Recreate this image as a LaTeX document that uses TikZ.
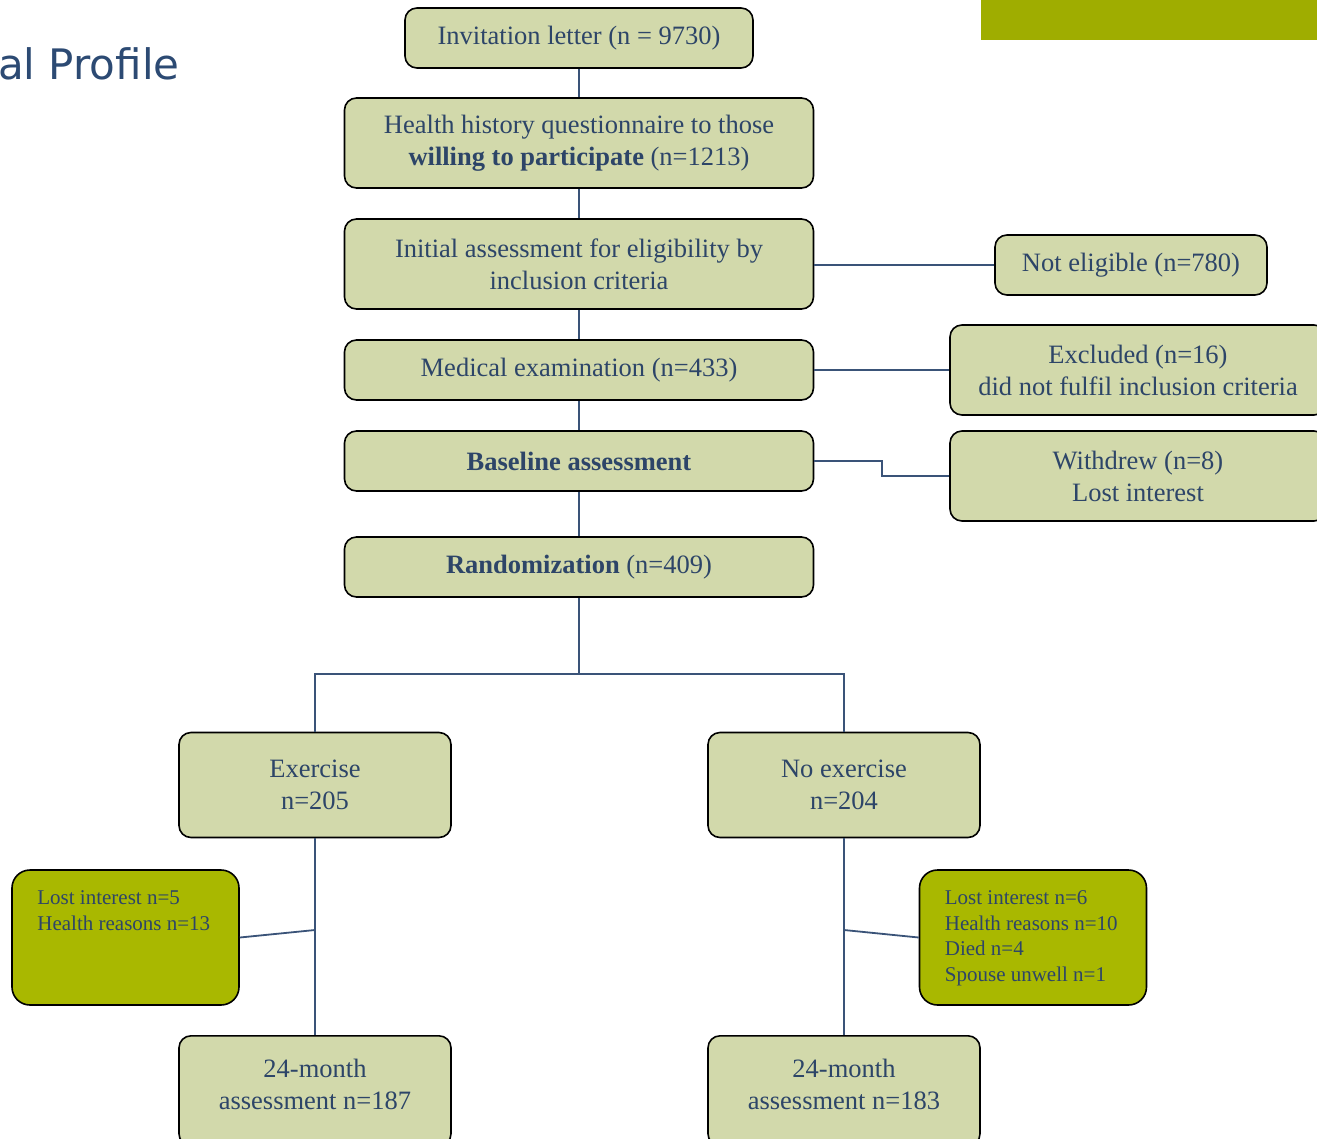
\documentclass[tikz,border=0pt]{standalone}
\usepackage{fontspec}
\setmainfont{Liberation Serif}
\newfontfamily\titlefont{DejaVu Sans}
\usepackage{tikz}
\usetikzlibrary{calc,positioning}
\definecolor{cBox}{HTML}{D2D9AB}
\definecolor{cLost}{HTML}{A9B800}
\definecolor{cBar}{HTML}{9FAD00}
\definecolor{cText}{HTML}{2D4568}
\definecolor{cLine}{HTML}{3A5378}
\definecolor{cTitle}{HTML}{2C4A73}
\tikzset{
  box/.style={draw=black,line width=1.6pt,rounded corners=12pt,fill=cBox,text=cText,align=center,inner sep=0pt,font=\fontsize{26.5}{32}\selectfont},
  lostbox/.style={draw=black,line width=1.6pt,rounded corners=18pt,fill=cLost,inner sep=0pt,minimum width=227pt,minimum height=135pt},
  losttxt/.style={text=cText,align=left,anchor=north west,inner sep=0pt,font=\fontsize{21}{25.7}\selectfont},
  conn/.style={line width=1.8pt,cLine},
}

\begin{document}
\begin{tikzpicture}[x=1pt,y=-1pt]
  \useasboundingbox (0,0) rectangle (1317,1138);
  \clip (0,0) rectangle (1317,1138);
  % header
  \fill[cBar] (981,0) rectangle (1317,40);
  \node[anchor=base west,inner sep=0pt,text=cTitle,font=\titlefont\fontsize{42}{48}\selectfont] (title) at (-2,79) {al Profile};
  % main column
  \node[box,minimum width=348pt,minimum height=60pt] (inv) at (579,38) {Invitation letter (n = 9730)};
  \node[box,minimum width=469pt,minimum height=90pt] (hhq) at (579,143) {Health history questionnaire to those\\\textbf{willing to participate} (n=1213)};
  \node[box,minimum width=469pt,minimum height=90pt] (init) at (579,264) {Initial assessment for eligibility by\\inclusion criteria};
  \node[box,minimum width=469pt,minimum height=60pt] (med) at (579,370) {Medical examination (n=433)};
  \node[box,minimum width=469pt,minimum height=60pt] (base) at (579,461) {\textbf{Baseline assessment}};
  \node[box,minimum width=469pt,minimum height=60pt] (rand) at (579,567) {\textbf{Randomization} (n=409)};
  % side boxes
  \node[box,minimum width=272pt,minimum height=60pt] (noteli) at (1131,265) {Not eligible (n=780)};
  \node[box,minimum width=376pt,minimum height=90pt] (excl) at (1138,370) {Excluded (n=16)\\did not fulfil inclusion criteria};
  \node[box,minimum width=376pt,minimum height=90pt] (withd) at (1138,476) {Withdrew (n=8)\\Lost interest};
  % arms
  \node[box,minimum width=272pt,minimum height=105pt] (ex) at (315,785) {Exercise\\n=205};
  \node[box,minimum width=272pt,minimum height=105pt] (noex) at (844,785) {No exercise\\n=204};
  \node[box,minimum width=272pt,minimum height=110pt,anchor=north] (mA) at (315,1035) {24-month\\assessment n=187\\[-18pt]};
  \node[box,minimum width=272pt,minimum height=110pt,anchor=north] (mB) at (844,1035) {24-month\\assessment n=183\\[-18pt]};
  % losses
  \node[lostbox] (lostA) at (125.5,937.5) {};
  \node[losttxt] (lostAtxt) at ([shift={(26,21)}]lostA.north west) {Lost interest n=5\\Health reasons n=13};
  \node[lostbox] (lostB) at (1033,937.5) {};
  \node[losttxt] (lostBtxt) at ([shift={(26,21)}]lostB.north west) {Lost interest n=6\\Health reasons n=10\\Died n=4\\Spouse unwell n=1};
  % connectors
  \draw[conn] (inv) -- (hhq);
  \draw[conn] (hhq) -- (init);
  \draw[conn] (init) -- (med);
  \draw[conn] (med) -- (base);
  \draw[conn] (base) -- (rand);
  \draw[conn] (init.east |- noteli) -- (noteli.west);
  \draw[conn] (med) -- (excl);
  \draw[conn] (base.east) -- ++(68,0) |- (withd.west);
  \draw[conn] (rand.south) -- ++(0,76) coordinate (split);
  \draw[conn] (ex.north) |- (split) -| (noex.north);
  \draw[conn] (ex) -- (mA);
  \draw[conn] (noex) -- (mB);
  \coordinate (jA) at (315,930);
  \coordinate (jB) at (844,930);
  \draw[conn] (jA) -- (lostA.east);
  \draw[conn] (jB) -- (lostB.west);
\end{tikzpicture}
\end{document}
